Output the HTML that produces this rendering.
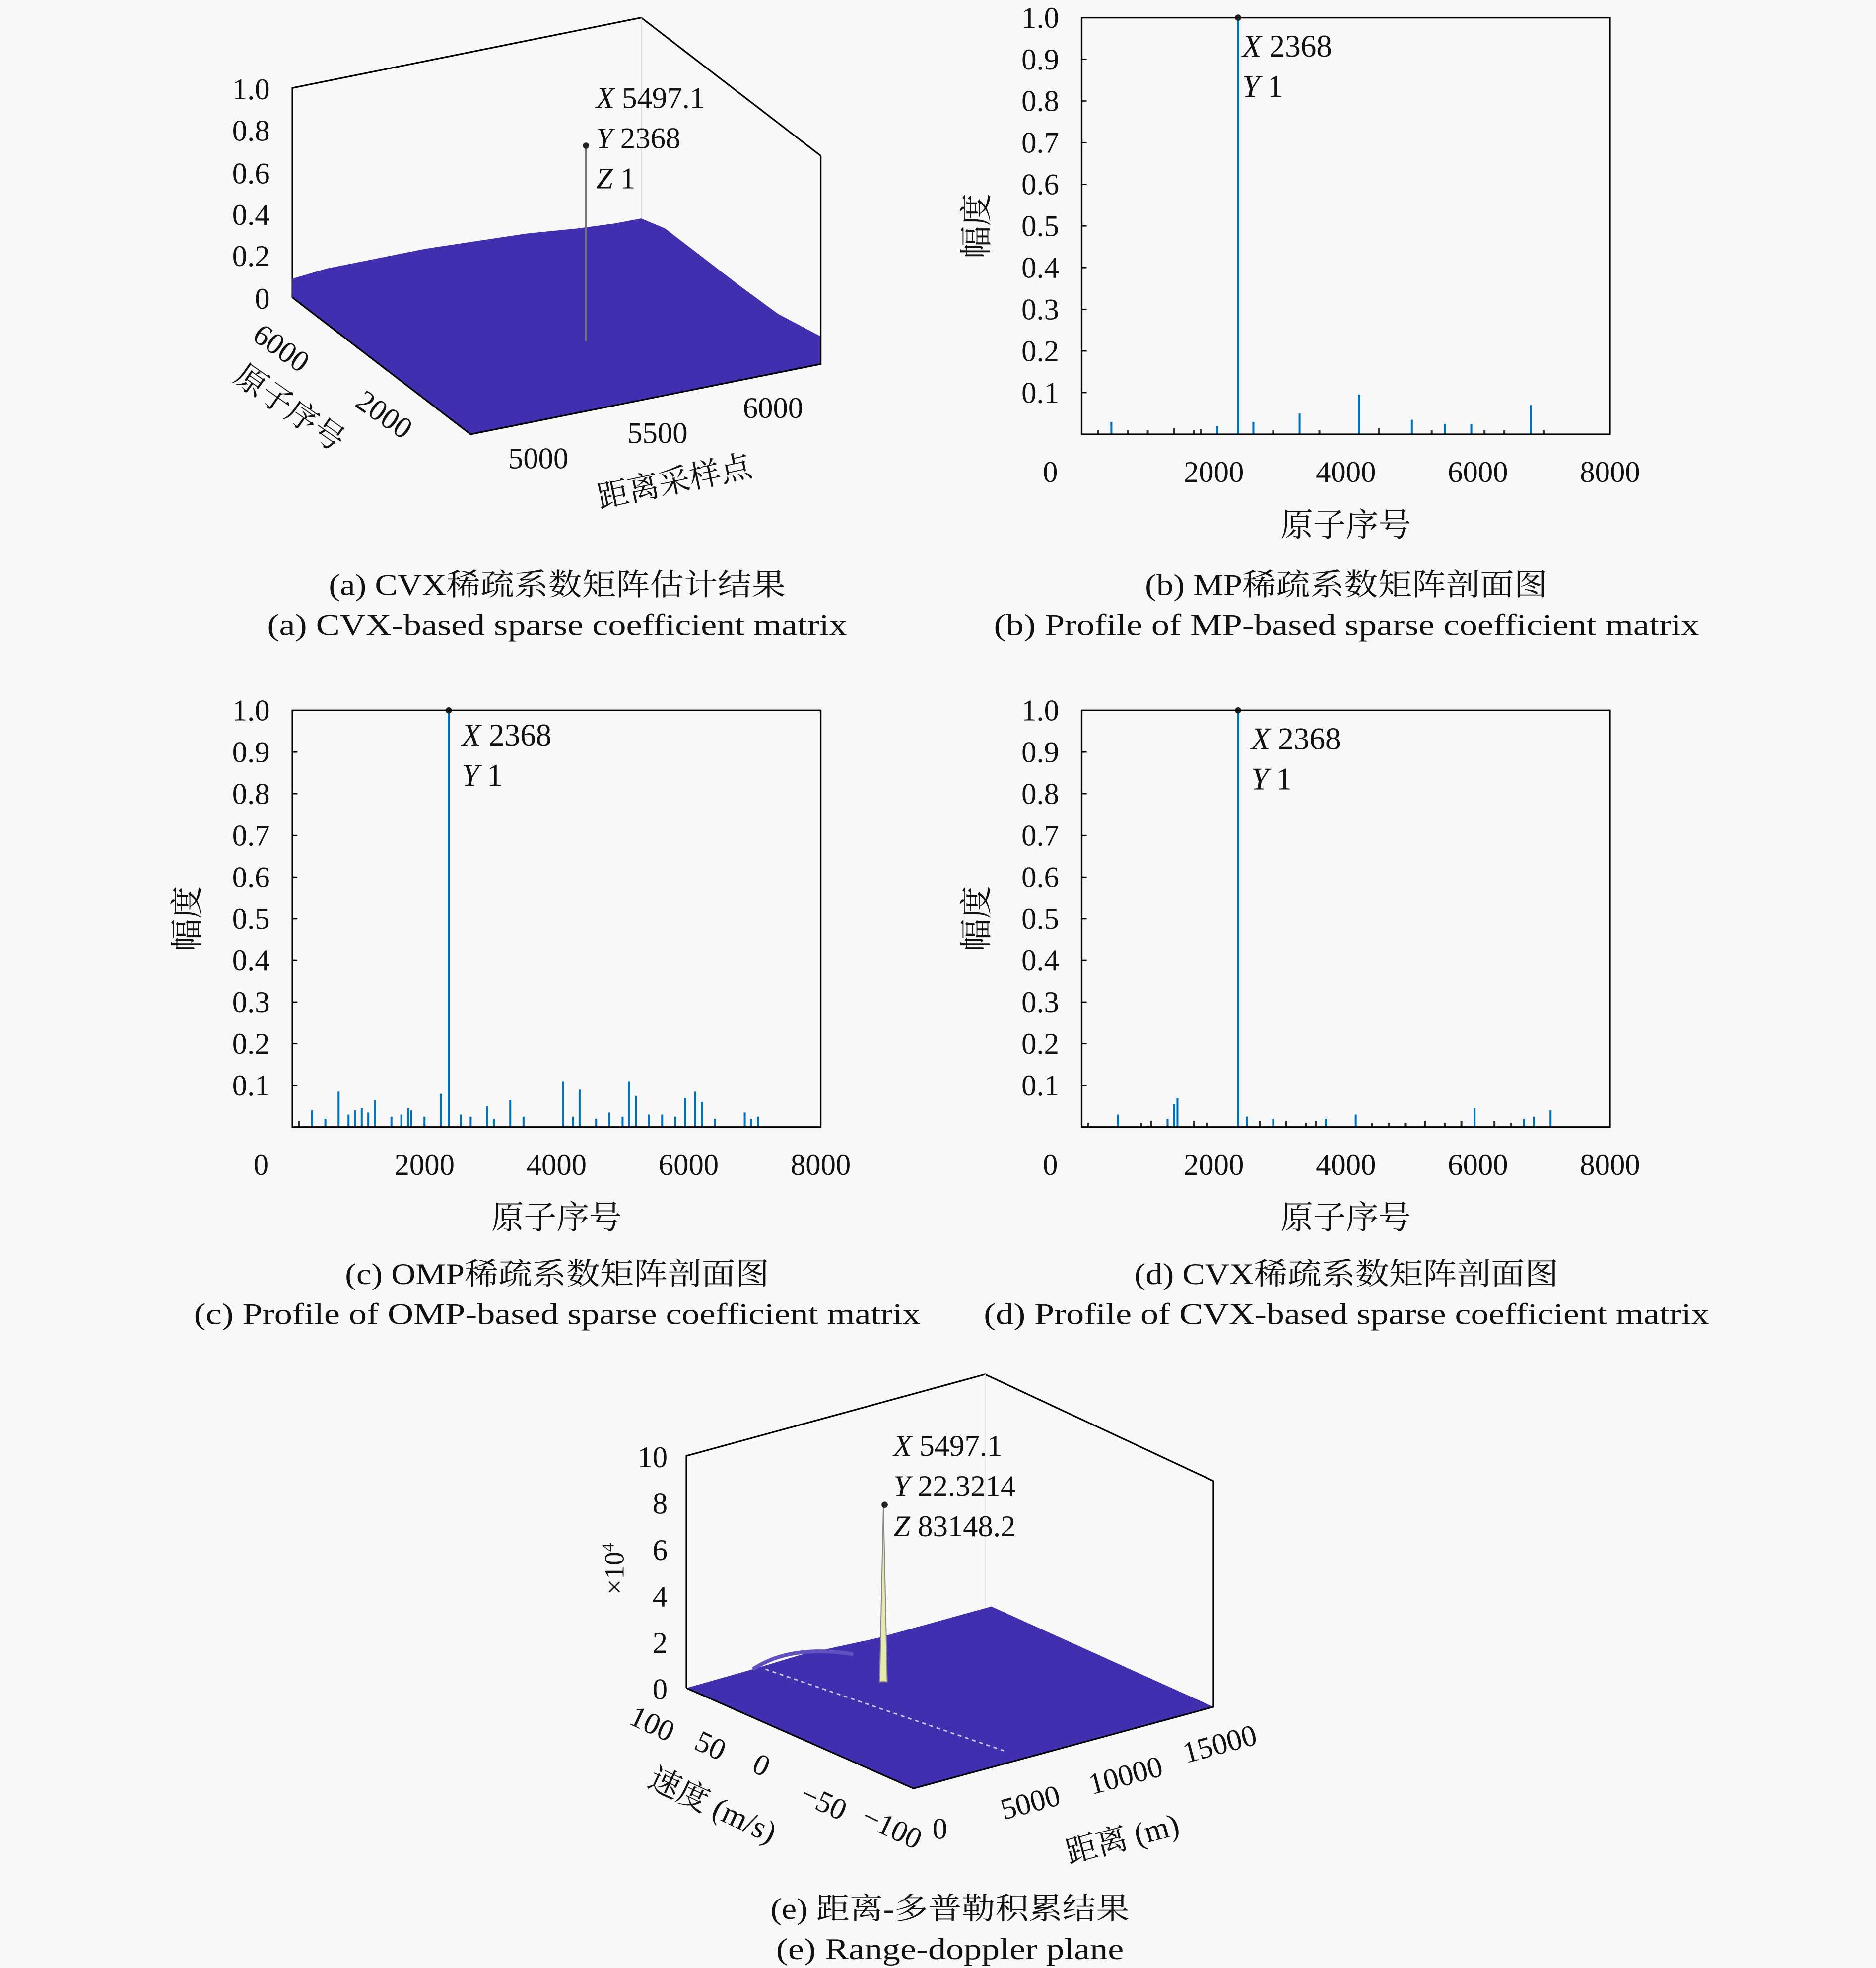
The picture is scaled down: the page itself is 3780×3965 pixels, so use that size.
<!DOCTYPE html>
<html><head><meta charset="utf-8">
<style>
html,body{margin:0;padding:0;background:#f8f8f8;}
svg{display:block;}
text{font-family:"Liberation Serif","Noto Serif CJK SC",serif;fill:#111;}
</style></head>
<body>
<svg id="fig" width="3780" height="3965" viewBox="0 0 1495 1568" xmlns="http://www.w3.org/2000/svg">
<rect width="1495" height="1568" fill="#f8f8f8"/>

<!-- Panel a: 3D -->
<g>
  <polyline points="233,237 233,70 511,14 654,124" fill="none" stroke="#000" stroke-width="1.3"/>
  <line x1="511" y1="14" x2="511" y2="175" stroke="#ddd" stroke-width="0.8"/>
  <polygon fill="#4030b0" points="233,222 260,214 300,206 340,198 380,192 420,186 460,182 490,178 511,174 530,182 560,205 590,228 620,250 654,268 654,290 375,346 233,237"/>
  <polyline points="233,237 375,346 654,290 654,124" fill="none" stroke="#000" stroke-width="1.3"/>
  <line x1="467" y1="116" x2="467" y2="272" stroke="#777" stroke-width="1.5"/>
  <circle cx="467" cy="116" r="2.5" fill="#222"/>
  <g font-size="24" text-anchor="end">
    <text x="215" y="79">1.0</text><text x="215" y="112">0.8</text><text x="215" y="146">0.6</text>
    <text x="215" y="179">0.4</text><text x="215" y="212">0.2</text><text x="215" y="246">0</text>
  </g>
  <g font-size="24">
    <text x="475" y="86"><tspan font-style="italic">X</tspan> 5497.1</text>
    <text x="475" y="118"><tspan font-style="italic">Y</tspan> 2368</text>
    <text x="475" y="150"><tspan font-style="italic">Z</tspan> 1</text>
    <text x="200" y="270" transform="rotate(35 200 270)">6000</text>
    <text x="282" y="323" transform="rotate(35 282 323)">2000</text>
    <text x="185" y="303" transform="rotate(35 185 303)" font-size="25">原子序号</text>
    <text x="405" y="373">5000</text><text x="500" y="353">5500</text><text x="592" y="333">6000</text>
    <text x="478" y="405" transform="rotate(-12 478 405)" font-size="25">距离采样点</text>
  </g>
</g>

<g id="pb"></g>
<g id="pc"></g>
<g id="pd"></g>

<!-- Panel e -->
<g>
  <polyline points="547,1345 547,1160 785,1095 967,1180" fill="none" stroke="#000" stroke-width="1.3"/>
  <line x1="785" y1="1095" x2="785" y2="1280" stroke="#ddd" stroke-width="0.8"/>
  <polygon fill="#4030b0" points="547,1345 600,1330 640,1318 700,1305 790,1280 967,1360 728,1425"/>
  <path d="M600,1330 Q630,1310 680,1318" fill="none" stroke="#6050c0" stroke-width="3"/>
  <line x1="610" y1="1330" x2="800" y2="1395" stroke="#c9c9e8" stroke-width="1.2" stroke-dasharray="3,3"/>
  <polygon fill="#e6e8b0" stroke="#888" stroke-width="0.8" points="701,1340 704,1200 707,1340"/>
  <polyline points="547,1345 728,1425 967,1360 967,1180" fill="none" stroke="#000" stroke-width="1.3"/>
  <circle cx="705" cy="1199" r="2.5" fill="#222"/>
  <g font-size="24" text-anchor="end">
    <text x="532" y="1169">10</text><text x="532" y="1206">8</text><text x="532" y="1243">6</text>
    <text x="532" y="1280">4</text><text x="532" y="1317">2</text><text x="532" y="1354">0</text>
  </g>
  <text x="497" y="1250" font-size="22" transform="rotate(-90 497 1250)" text-anchor="middle">×10<tspan font-size="14" dy="-8">4</tspan></text>
  <g font-size="24">
    <text x="712" y="1160"><tspan font-style="italic">X</tspan> 5497.1</text>
    <text x="712" y="1192"><tspan font-style="italic">Y</tspan> 22.3214</text>
    <text x="712" y="1224"><tspan font-style="italic">Z</tspan> 83148.2</text>
    <text x="500" y="1373" transform="rotate(25 500 1373)">100</text>
    <text x="552" y="1393" transform="rotate(25 552 1393)">50</text>
    <text x="598" y="1411" transform="rotate(25 598 1411)">0</text>
    <text x="636" y="1435" transform="rotate(25 636 1435)">−50</text>
    <text x="685" y="1453" transform="rotate(25 685 1453)">−100</text>
    <text x="515" y="1423" transform="rotate(25 515 1423)" font-size="25">速度 (m/s)</text>
    <text x="743" y="1465">0</text>
    <text x="800" y="1450" transform="rotate(-15 800 1450)">5000</text>
    <text x="870" y="1430" transform="rotate(-15 870 1430)">10000</text>
    <text x="945" y="1405" transform="rotate(-15 945 1405)">15000</text>
    <text x="852" y="1485" transform="rotate(-15 852 1485)" font-size="25">距离 (m)</text>
  </g>
</g>

<!-- Captions -->
<g font-size="24" text-anchor="middle">
  <text x="444" y="474" textLength="364" lengthAdjust="spacingAndGlyphs">(a) CVX稀疏系数矩阵估计结果</text>
  <text x="444" y="506" textLength="462" lengthAdjust="spacingAndGlyphs">(a) CVX-based sparse coefficient matrix</text>
  <text x="1073" y="474" textLength="321" lengthAdjust="spacingAndGlyphs">(b) MP稀疏系数矩阵剖面图</text>
  <text x="1073" y="506" textLength="562" lengthAdjust="spacingAndGlyphs">(b) Profile of MP-based sparse coefficient matrix</text>
  <text x="444" y="1023" textLength="338" lengthAdjust="spacingAndGlyphs">(c) OMP稀疏系数矩阵剖面图</text>
  <text x="444" y="1055" textLength="579" lengthAdjust="spacingAndGlyphs">(c) Profile of OMP-based sparse coefficient matrix</text>
  <text x="1073" y="1023" textLength="338" lengthAdjust="spacingAndGlyphs">(d) CVX稀疏系数矩阵剖面图</text>
  <text x="1073" y="1055" textLength="578" lengthAdjust="spacingAndGlyphs">(d) Profile of CVX-based sparse coefficient matrix</text>
  <text x="757" y="1529" textLength="286" lengthAdjust="spacingAndGlyphs">(e) 距离-多普勒积累结果</text>
  <text x="757" y="1561" textLength="277" lengthAdjust="spacingAndGlyphs">(e) Range-doppler plane</text>
</g>
</svg>
<script>
const yTicks = [0.1,0.2,0.3,0.4,0.5,0.6,0.7,0.8,0.9,1.0];
const yTickLabels = ["0.1","0.2","0.3","0.4","0.5","0.6","0.7","0.8","0.9","1.0"];
const xTicks = [0,2000,4000,6000,8000];
const xTickLabels = ["0","2000","4000","6000","8000"];
const mpIdx = [250,450,700,1000,1400,1700,1800,2050,2368,2600,2900,3300,3600,4200,4500,5000,5300,5500,5900,6100,6400,6800,7000];
const mpVal = [0.01,0.03,0.01,0.01,0.015,0.01,0.012,0.02,1.0,0.03,0.01,0.05,0.01,0.095,0.015,0.035,0.01,0.025,0.025,0.01,0.01,0.07,0.01];
const ompIdx = [100,300,500,700,850,950,1050,1150,1250,1500,1650,1750,1800,2000,2250,2368,2550,2700,2950,3050,3300,3500,4100,4250,4350,4600,4800,5000,5100,5200,5400,5600,5800,5950,6100,6200,6400,6850,6950,7050];
const ompVal = [0.015,0.04,0.02,0.085,0.03,0.04,0.045,0.035,0.065,0.025,0.03,0.045,0.04,0.025,0.08,1.0,0.03,0.025,0.05,0.02,0.065,0.025,0.11,0.025,0.09,0.02,0.035,0.025,0.11,0.075,0.03,0.03,0.025,0.07,0.085,0.06,0.02,0.035,0.02,0.025];
const cvxIdx = [100,550,900,1050,1300,1400,1450,1700,1900,2368,2500,2700,2900,3100,3400,3550,3700,4150,4400,4650,4900,5200,5500,5750,5950,6250,6500,6700,6850,7100];
const cvxVal = [0.01,0.03,0.01,0.015,0.02,0.055,0.07,0.015,0.01,1.0,0.025,0.015,0.02,0.015,0.01,0.015,0.02,0.03,0.01,0.01,0.01,0.015,0.01,0.015,0.045,0.015,0.01,0.02,0.025,0.04];

const NS='http://www.w3.org/2000/svg';
function mk(tag,attrs,parent){const e=document.createElementNS(NS,tag);for(const k in attrs)e.setAttribute(k,attrs[k]);parent.appendChild(e);return e;}

function profile(gid,x0,y0,idx,val,showYLabel,markX,markY,key){
  const g=document.getElementById(gid);
  const W=421,H=332;
  const sx=v=>x0+v/8000*W, sy=v=>y0+H-v*H;
  for(let i=0;i<idx.length;i++){
    const b=mk('line',{x1:sx(idx[i]),x2:sx(idx[i]),y1:sy(0),y2:sy(val[i]),stroke:val[i]<0.02?'#333':'#0072bd','stroke-width':1.6},g);
    
    
  }
  mk('circle',{cx:sx(2368),cy:sy(1),r:2.5,fill:'#222'},g);
  const box=mk('rect',{x:x0,y:y0,width:W,height:H,fill:'none',stroke:'#000','stroke-width':1.3},g);
  
  
  yTicks.forEach((t,i)=>{
    mk('line',{x1:x0,x2:x0+4,y1:sy(t),y2:sy(t),stroke:'#000'},g);
    const tx=mk('text',{x:x0-18,y:sy(t)+8,'font-size':24,'text-anchor':'end'},g);tx.textContent=yTickLabels[i];
    
    
  });
  xTicks.forEach((t,i)=>{
    const x=i===0?x0-25:sx(t);
    const tx=mk('text',{x:x,y:y0+H+38,'font-size':24,'text-anchor':'middle'},g);tx.textContent=xTickLabels[i];
    
    
  });
  const xl=mk('text',{x:x0+W/2,y:y0+H+81,'font-size':26,'text-anchor':'middle'},g);xl.textContent='原子序号';
  
  
  const yl=mk('text',{x:x0-75,y:y0+H/2,'font-size':26,'text-anchor':'middle',transform:`rotate(-90 ${x0-75} ${y0+H/2})`},g);yl.textContent='幅度';
  
  
  const a=mk('text',{x:markX,y:markY,'font-size':25},g);a.innerHTML='<tspan font-style="italic">X</tspan> 2368';
  
  
  const b=mk('text',{x:markX,y:markY+32,'font-size':25},g);b.innerHTML='<tspan font-style="italic">Y</tspan> 1';
  
  
}
profile('pb',862,14,mpIdx,mpVal,true,990,45,'mp');
profile('pc',233,566,ompIdx,ompVal,true,368,594,'omp');
profile('pd',862,566,cvxIdx,cvxVal,true,997,597,'cvx');
</script>
</body></html>
